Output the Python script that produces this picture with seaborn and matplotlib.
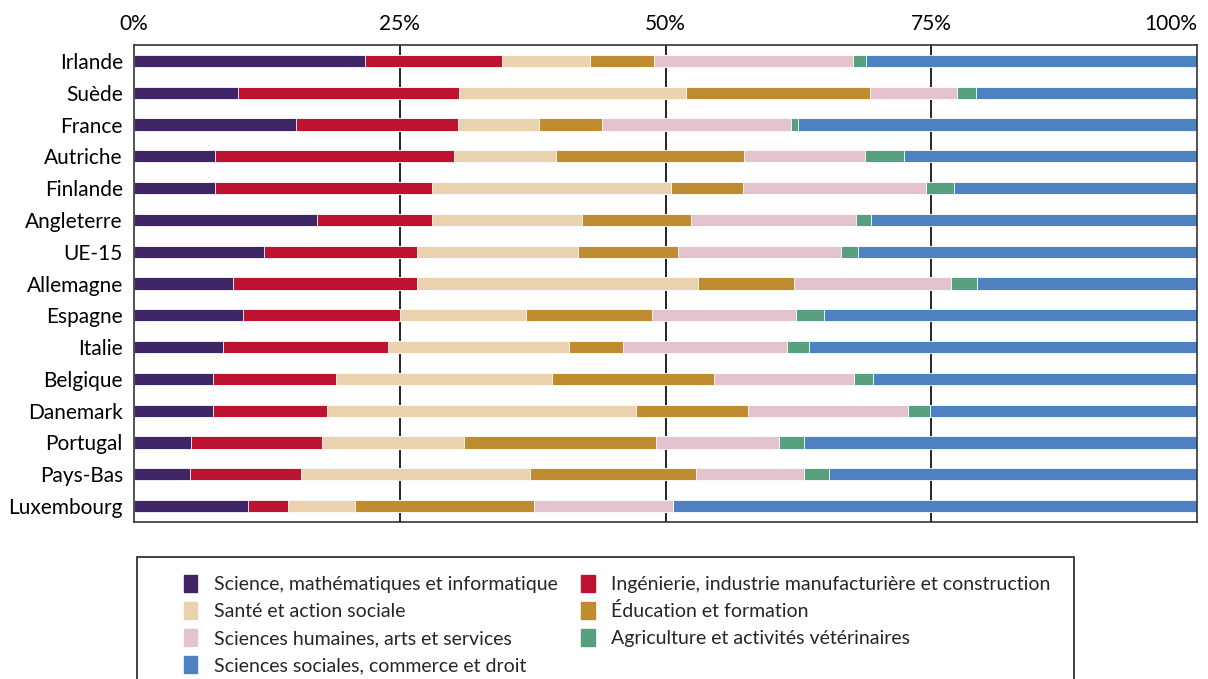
import numpy as np
import pandas as pd
import matplotlib.pyplot as plt
import matplotlib.patches as mpatches
import seaborn as sns

# Pays (de haut en bas)
pays = ['Irlande', 'Suède', 'France', 'Autriche', 'Finlande', 'Angleterre', 'UE-15',
        'Allemagne', 'Espagne', 'Italie', 'Belgique', 'Danemark', 'Portugal',
        'Pays-Bas', 'Luxembourg']

# Parts (%) par domaine d'études
science = [21.7, 9.8, 15.2, 7.6, 7.6, 17.2, 12.2, 9.3, 10.3, 8.4, 7.4, 7.4, 5.4, 5.3, 10.7]
ingenierie = [12.9, 20.8, 15.3, 22.5, 20.4, 10.8, 14.4, 17.3, 14.7, 15.5, 11.6, 10.8, 12.3, 10.4, 3.8]
sante = [8.3, 21.3, 7.6, 9.6, 22.5, 14.1, 15.2, 26.5, 11.9, 17.0, 20.3, 29.0, 13.3, 21.6, 6.3]
education = [6.0, 17.3, 5.9, 17.7, 6.8, 10.3, 9.4, 9.0, 11.8, 5.1, 15.3, 10.6, 18.1, 15.6, 16.8]
humaines = [18.7, 8.2, 17.8, 11.4, 17.2, 15.5, 15.3, 14.8, 13.6, 15.4, 13.1, 15.0, 11.6, 10.1, 13.1]
agriculture = [1.3, 1.8, 0.7, 3.6, 2.6, 1.4, 1.6, 2.4, 2.6, 2.1, 1.8, 2.1, 2.3, 2.4, 0.0]
sociales = [31.1, 20.8, 37.5, 27.6, 22.9, 30.7, 31.9, 20.7, 35.1, 36.5, 30.5, 25.1, 37.0, 34.6, 49.3]

domaines = ['Science, mathématiques et informatique',
            'Ingénierie, industrie manufacturière et construction',
            'Santé et action sociale',
            'Éducation et formation',
            'Sciences humaines, arts et services',
            'Agriculture et activités vétérinaires',
            'Sciences sociales, commerce et droit']
couleurs = ['#3F2566', '#BD1330', '#E9D2AD', '#C08C30', '#E5C3CE', '#57A07E', '#4D81C1']

df = pd.DataFrame(dict(zip(domaines, [science, ingenierie, sante, education,
                                      humaines, agriculture, sociales])), index=pays)
# normaliser à 100 %
df = df.div(df.sum(axis=1), axis=0) * 100
cumul = df.cumsum(axis=1)

sns.set_style('white')
plt.rcParams['font.family'] = ['Lato', 'DejaVu Sans']

fig = plt.figure(figsize=(12.08, 6.79), dpi=100)
ax = fig.add_axes([134 / 1208, 1 - 522 / 679, (1197 - 134) / 1208, (522 - 45) / 679])

# barres empilées : on trace les cumuls du plus grand au plus petit
for dom, col in reversed(list(zip(domaines, couleurs))):
    sns.barplot(x=cumul[dom].values, y=pays, order=pays, orient='h', color=col,
                saturation=1, width=0.38, edgecolor='white', linewidth=0.6, ax=ax)

ax.set_xlim(0, 100)
ax.set_ylim(len(pays) - 0.5, -0.5)
ax.xaxis.tick_top()
ax.set_xticks([0, 25, 50, 75, 100])
ax.set_xticklabels(['0%', '25%', '50%', '75%', '100%'])
ax.tick_params(axis='both', length=0, labelsize=15, colors='black')
ax.tick_params(axis='x', pad=8)
ax.tick_params(axis='y', pad=8)
for t in ax.xaxis.get_major_ticks()[-1:]:
    t.label2.set_horizontalalignment('right')
ax.set_xlabel('')
ax.set_ylabel('')
for x in [25, 50, 75]:
    ax.axvline(x, color='black', linewidth=1.2, zorder=0)
for s in ax.spines.values():
    s.set_visible(True)
    s.set_color('#333333')
    s.set_linewidth(1.2)

# cadre de la légende
fig.patches.append(mpatches.Rectangle((137 / 1208, -0.05), (1074 - 137) / 1208, 0.05 + 1 - 557 / 679,
                                      transform=fig.transFigure, fill=False,
                                      edgecolor='#222222', linewidth=1.2))

handles = [mpatches.Patch(color=c, label=d) for d, c in zip(domaines, couleurs)]
ordre = [0, 2, 4, 6, 1, 3, 5]
fig.legend([handles[i] for i in ordre], [domaines[i] for i in ordre],
           loc='upper left', bbox_to_anchor=(174 / 1208, 1 - 565 / 679), ncol=2,
           frameon=False, fontsize=14, handlelength=0.7, handleheight=1.0,
           handletextpad=0.85, labelspacing=0.45, columnspacing=1.2, borderpad=0)

fig.savefig('out.png', dpi=100)
